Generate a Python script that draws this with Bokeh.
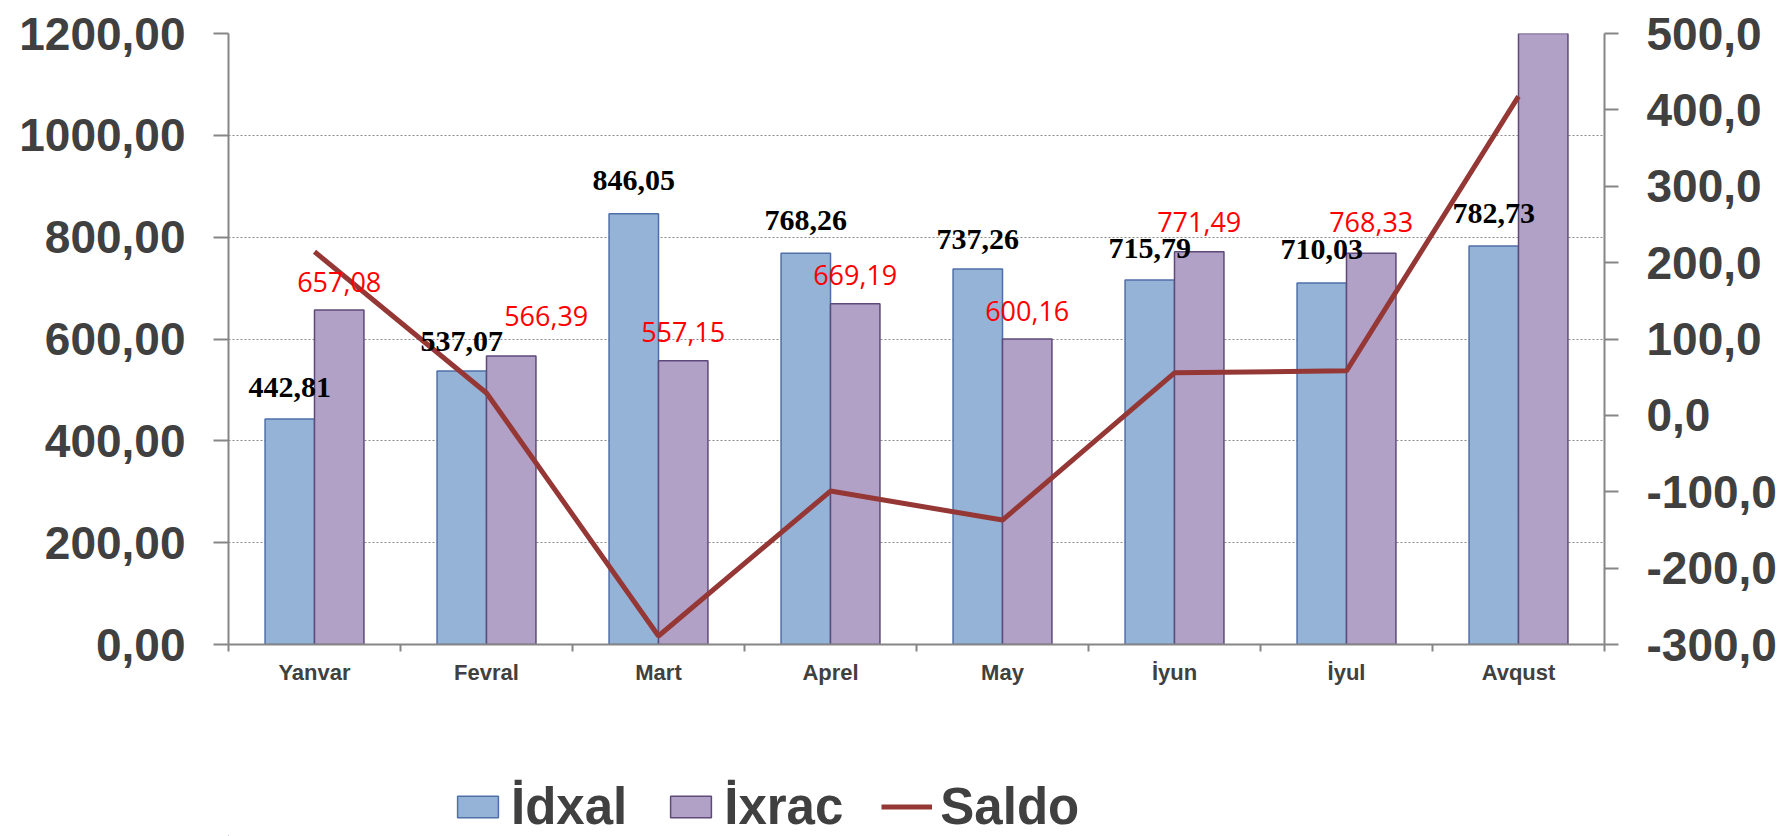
from bokeh.plotting import figure
from bokeh.layouts import column
from bokeh.models import (Range1d, LinearAxis, FixedTicker, ColumnDataSource,
                          Legend, LegendItem)
from bokeh.transform import dodge
from bokeh.core.properties import value
from bokeh.embed import file_html
from bokeh.resources import INLINE

# ---- data ----
months = ["Yanvar", "Fevral", "Mart", "Aprel", "May", "İyun", "İyul", "Avqust"]
idxal = [442.81, 537.07, 846.05, 768.26, 737.26, 715.79, 710.03, 782.73]
ixrac = [657.08, 566.39, 557.15, 669.19, 600.16, 771.49, 768.33, 1200.5]
saldo = [214.27, 29.32, -288.90, -99.07, -137.10, 55.70, 58.30, 417.77]
series_names = ["İdxal", "İxrac", "Saldo"]
left_ticks = [0, 200, 400, 600, 800, 1000, 1200]
right_ticks = [-300, -200, -100, 0, 100, 200, 300, 400, 500]

# ---- label styling offsets (screen px) ----
idxal_dx = [0, 0, 0, 0, 0, 0, 0, 0]
idxal_dy = [-32, -30, -33, -33, -30, -32, -33, -32]
ixrac_dx = [0, 35, 0, 0, 0, 0, 0]
ixrac_dy = [-28, -40, -29, -29, -28, -30, -31]

def fmt(v, d):
    return f"{v:.{d}f}".replace(".", ",")

xs = [i + 0.5 for i in range(len(months))]
src = ColumnDataSource(dict(x=xs, idxal=idxal, ixrac=ixrac, saldo=saldo))
lbl_i = ColumnDataSource(dict(x=xs, y=idxal, t=[fmt(v, 2) for v in idxal],
                              dx=idxal_dx, dy=idxal_dy))
n = len(ixrac_dx)
lbl_x = ColumnDataSource(dict(x=xs[:n], y=ixrac[:n], t=[fmt(v, 2) for v in ixrac[:n]],
                              dx=ixrac_dx, dy=ixrac_dy))

GRAY = "#868686"
TXT = "#404040"
C_I, L_I = "#95B3D7", "#4F6FA8"
C_X, L_X = "#B2A1C7", "#5F497A"
C_S = "#953735"

p = figure(width=1780, height=700, output_backend="svg", toolbar_location=None,
           x_range=Range1d(0, len(months)), y_range=Range1d(0, 1200),
           min_border_left=228, min_border_right=176, min_border_top=33,
           min_border_bottom=56)
p.outline_line_color = None
p.xgrid.visible = False
p.ygrid.ticker = FixedTicker(ticks=left_ticks[1:])
p.ygrid.grid_line_color = "#8a8a8a"
p.ygrid.grid_line_dash = "2 2"
p.ygrid.grid_line_width = 1.2

p.extra_y_ranges = {"saldo": Range1d(-300, 500)}

# left axis
ya = p.yaxis[0]
ya.ticker = FixedTicker(ticks=left_ticks)
ya.major_label_overrides = {t: fmt(t, 2) for t in left_ticks}
ya.major_label_text_font = "Liberation Sans"
ya.major_label_text_font_style = "bold"
ya.major_label_text_font_size = "46px"
ya.major_label_text_color = TXT
ya.major_label_standoff = 28
ya.axis_line_color = GRAY
ya.axis_line_width = 2
ya.major_tick_line_color = GRAY
ya.major_tick_line_width = 2
ya.major_tick_in = 0
ya.major_tick_out = 15
ya.minor_tick_line_color = None

# right axis
ra = LinearAxis(y_range_name="saldo", ticker=FixedTicker(ticks=right_ticks))
ra.major_label_overrides = {t: fmt(t, 1) for t in right_ticks}
ra.major_label_text_font = "Liberation Sans"
ra.major_label_text_font_style = "bold"
ra.major_label_text_font_size = "46px"
ra.major_label_text_color = TXT
ra.major_label_standoff = 28
ra.axis_line_color = GRAY
ra.axis_line_width = 2
ra.major_tick_line_color = GRAY
ra.major_tick_line_width = 2
ra.major_tick_in = 0
ra.major_tick_out = 14
ra.minor_tick_line_color = None
p.add_layout(ra, "right")

# bottom axis
xa = p.xaxis[0]
xa.ticker = FixedTicker(ticks=xs, minor_ticks=list(range(len(months) + 1)))
xa.major_label_overrides = {x: m for x, m in zip(xs, months)}
xa.major_label_text_font = "Liberation Sans"
xa.major_label_text_font_style = "bold"
xa.major_label_text_font_size = "22px"
xa.major_label_text_color = TXT
xa.major_label_standoff = 8
xa.axis_line_color = GRAY
xa.axis_line_width = 2
xa.major_tick_line_color = None
xa.minor_tick_line_color = GRAY
xa.minor_tick_line_width = 2
xa.minor_tick_in = 0
xa.minor_tick_out = 7

W = 0.2875
OFF = 0.1437
p.vbar(x=dodge("x", -OFF, range=p.x_range), top="idxal", bottom=0, width=W,
       source=src, fill_color=C_I, line_color=L_I, line_width=1.5)
p.vbar(x=dodge("x", OFF, range=p.x_range), top="ixrac", bottom=0, width=W,
       source=src, fill_color=C_X, line_color=L_X, line_width=1.5)
p.line(x="x", y="saldo", source=src, y_range_name="saldo",
       line_color=C_S, line_width=5)

p.text(x=dodge("x", -OFF, range=p.x_range), y="y", text="t", source=lbl_i,
       x_offset="dx", y_offset="dy",
       text_font=value("Liberation Serif"), text_font_style="bold",
       text_font_size="30px", text_align="center", text_baseline="middle",
       text_color="black")
p.text(x=dodge("x", OFF, range=p.x_range), y="y", text="t", source=lbl_x,
       x_offset="dx", y_offset="dy",
       text_font=value("Open Sans"), text_font_size="27px",
       text_align="center", text_baseline="middle", text_color="#FF0000")

# ---- legend strip (separate figure so the legend is not clipped) ----
q = figure(width=1780, height=136, output_backend="svg", toolbar_location=None,
           x_range=Range1d(0, 1), y_range=Range1d(0, 1),
           x_axis_location=None, y_axis_location=None,
           min_border=0)
q.outline_line_color = None
q.grid.visible = False
# legend proxies: data kept far outside the visible range of the strip
proxy = ColumnDataSource(dict(x=[-1000, -999], y=[-1000, -999]))
g1 = q.vbar(x="x", top="y", width=0.1, source=proxy, fill_color=C_I, line_color=L_I, line_width=1.5)
g2 = q.vbar(x="x", top="y", width=0.1, source=proxy, fill_color=C_X, line_color=L_X, line_width=1.5)
g3 = q.line(x="x", y="y", source=proxy, line_color=C_S, line_width=5)

legend = Legend(items=[LegendItem(label=series_names[0], renderers=[g1]),
                       LegendItem(label=series_names[1], renderers=[g2]),
                       LegendItem(label=series_names[2], renderers=[g3])],
                orientation="horizontal", location=(224, 0),
                glyph_width=51, glyph_height=27, label_standoff=8, spacing=38,
                padding=0, margin=0,
                label_text_font="Liberation Sans", label_text_font_style="bold",
                label_text_font_size="51px", label_text_color=TXT,
                background_fill_alpha=0, border_line_color=None)
q.add_layout(legend, "center")

open("out.html", "w").write(file_html(column(p, q, spacing=0), INLINE))
